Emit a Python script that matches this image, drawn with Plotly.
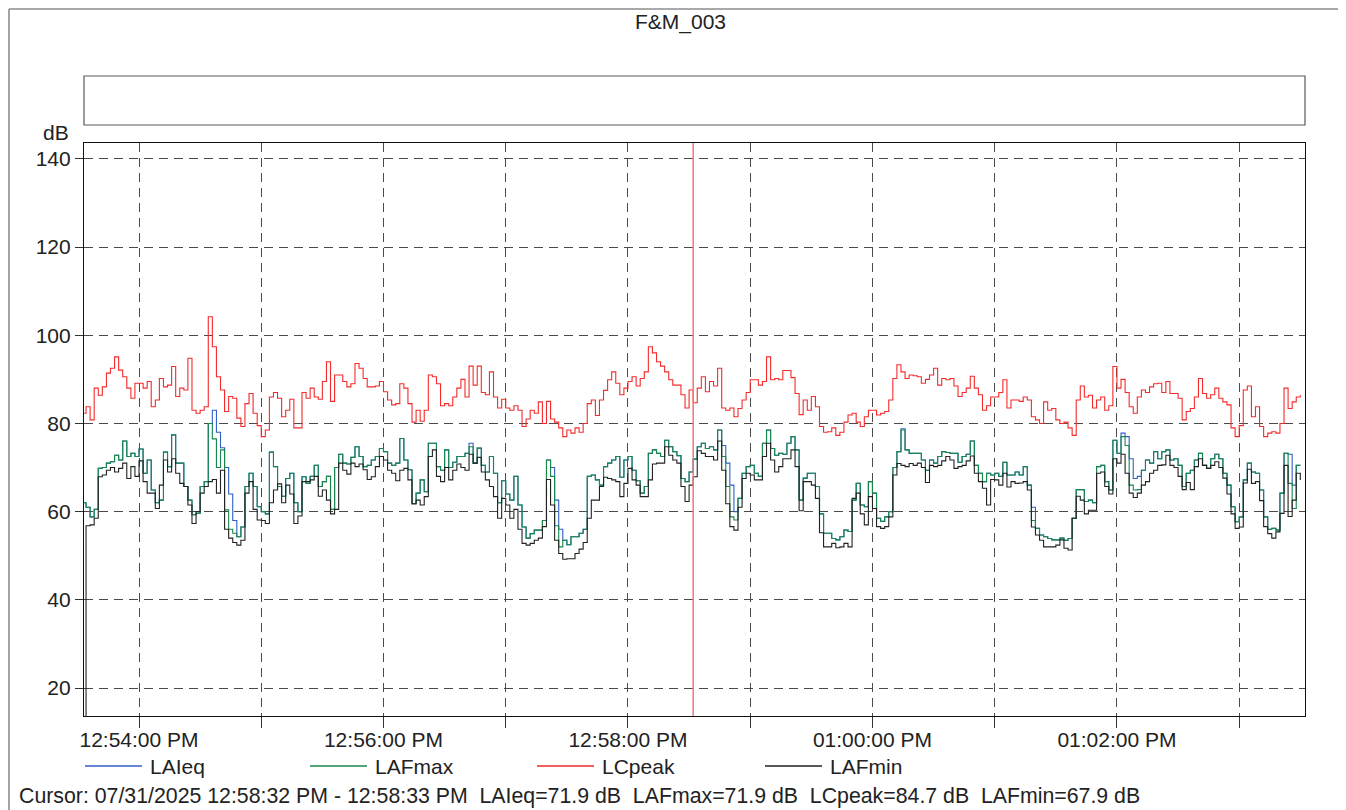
import plotly.graph_objects as go
import pandas as pd

# ---------------- data ----------------
START = "2025-07-31 12:53:32"
STEP_SECONDS = 2

LCpeak = [
    82.3, 83.8, 80.8, 88.0, 86.4, 88.3, 91.4, 92.5, 95.1, 92.1, 90.6, 88.0, 85.7, 89.1, 89.1, 88.0, 89.5, 83.8, 85.3, 90.2,
    88.3, 88.7, 92.9, 86.1, 88.0, 87.6, 94.8, 83.0, 82.3, 83.0, 83.8, 104.2, 97.4, 90.6, 87.6, 82.7, 86.1, 85.7, 81.2, 79.3,
    84.5, 86.8, 82.3,
    79.5, 77.0, 78.5, 86.0, 87.0, 85.7, 81.5, 83.0, 85.5, 79.0, 79.0, 87.0, 85.7, 88.0, 86.0, 85.5, 89.5, 94.0, 85.0, 91.0,
    91.0, 89.5, 88.3, 89.0, 93.6, 92.5, 90.2, 88.3, 88.3, 88.5, 89.5, 87.2, 85.3, 84.2, 84.5, 89.0, 88.0, 84.5, 80.3, 83.0,
    80.5, 83.0, 91.0, 90.6,
    89.0, 84.0, 84.5, 84.0, 86.0, 88.0, 90.0, 86.0, 93.0, 88.7, 93.0, 87.0, 86.5, 91.7, 86.0, 83.5, 85.5, 83.5, 83.0, 84.0,
    83.0, 79.3, 81.0, 83.0, 82.3, 84.9, 80.0, 85.0, 81.0, 80.3, 79.0, 77.0, 78.5, 77.8, 79.0, 78.0, 80.0, 84.5, 85.3, 81.8,
    85.3, 87.5, 89.9,
    91.7, 89.1, 86.5, 88.0, 89.5, 90.6, 88.5, 90.2, 91.7, 97.4, 96.0, 94.0, 93.0, 91.7, 89.9, 88.7, 88.7, 86.5, 83.5, 87.6,
    84.7, 88.0, 90.6, 87.2, 89.5, 88.5, 92.5, 83.5, 83.0, 83.5, 81.5, 83.4, 85.3, 87.0, 89.9, 89.9, 88.7, 89.5, 95.1, 89.9,
    90.2, 89.9, 92.0,
    92.0, 90.4, 86.8, 82.0, 85.3, 83.0, 86.1, 83.8, 79.3, 78.0, 78.1, 79.0, 77.3, 78.0, 80.3, 81.9, 82.3, 80.3, 79.3, 81.5,
    83.0, 83.0, 81.9, 82.3, 82.7, 85.3, 90.2, 93.3, 91.7, 90.2, 91.0, 90.8, 90.6, 89.1, 90.0, 91.0, 92.5, 88.7, 90.2, 89.9,
    90.2, 88.5, 86.1,
    87.0, 88.0, 90.7, 88.0, 86.5, 83.0, 84.0, 86.0, 86.0, 87.0, 89.9, 83.5, 85.3, 85.3, 85.0, 86.0, 85.3, 81.5, 80.8, 80.0,
    84.9, 83.0, 83.4, 80.8, 80.0, 80.3, 79.0, 77.3, 85.3, 88.5, 86.0, 86.4, 83.5, 85.3, 86.0, 83.0, 84.0, 92.9, 88.0, 90.0,
    87.0, 83.8, 82.3,
    86.0, 87.6, 87.0, 88.3, 89.0, 89.1, 87.0, 89.5, 86.8, 86.8, 85.7, 80.8, 82.7, 83.4, 86.0, 90.2, 86.8, 85.7, 86.5, 88.0,
    85.7, 84.9, 84.2, 79.0, 77.0, 79.5, 87.6, 88.5, 81.5, 83.8, 79.3, 77.0, 77.8, 78.1, 77.8, 80.0, 88.0, 83.4, 84.9, 86.0,
    86.4,
]

LAFmax = [
    62.0, 61.0, 58.8, 60.5, 69.8, 70.0, 71.0, 71.3, 72.8, 71.7, 76.0, 72.5, 73.2, 72.5, 74.2, 68.7, 71.7, 64.9, 62.0, 62.6,
    73.5, 70.2, 77.4, 71.0, 71.0, 65.7, 62.6, 59.3, 59.6, 65.7, 66.8, 80.0, 76.5, 70.0, 74.0, 60.4, 56.0, 55.1, 54.3, 56.5,
    65.7, 68.7, 65.7,
    61.1, 60.0, 59.5, 73.5, 70.2, 65.7, 63.5, 67.5, 68.7, 62.0, 60.0, 67.9, 66.4, 68.0, 70.5, 65.7, 66.8, 68.0, 60.5, 70.0,
    73.0, 71.0, 70.8, 72.3, 74.7, 72.5, 70.2, 70.5, 71.7, 72.5, 74.3, 73.6, 71.0, 70.5, 71.0, 76.6, 71.7, 69.5, 61.8, 64.2,
    67.2, 64.5, 75.5, 75.5,
    70.2, 69.4, 74.0, 70.0, 71.2, 72.5, 72.5, 73.2, 74.7, 71.0, 74.4, 70.5, 69.0, 72.5, 68.7, 62.0, 67.0, 64.0, 62.6, 68.0,
    61.5, 56.5, 54.0, 55.0, 55.8, 55.8, 58.0, 71.7, 68.0, 56.8, 52.0, 53.5, 52.5, 54.3, 54.3, 55.1, 56.0, 68.0, 68.3, 67.2,
    66.0, 70.2, 71.0,
    71.7, 72.5, 67.8, 71.7, 72.5, 69.4, 67.0, 64.2, 65.7, 73.2, 74.0, 73.2, 72.5, 76.2, 74.7, 73.6, 72.7, 67.5, 66.8, 69.0,
    71.9, 74.7, 75.5, 74.3, 74.7, 74.0, 78.5, 72.5, 65.7, 58.8, 58.1, 63.0, 68.7, 70.2, 70.5, 68.7, 68.0, 75.5, 78.5, 74.3,
    72.8, 73.2, 73.0,
    75.5, 77.0, 74.0, 62.6, 67.6, 68.7, 68.7, 65.7, 59.5, 55.1, 55.1, 53.9, 53.6, 54.3, 55.8, 55.5, 62.6, 66.4, 61.5, 61.1,
    66.8, 64.2, 58.5, 57.8, 58.8, 60.0, 70.0, 73.6, 78.5, 74.0, 73.2, 73.2, 73.2, 71.7, 69.4, 71.7, 71.0, 72.5, 73.6, 73.4,
    73.2, 73.2, 71.2,
    72.5, 73.0, 76.0, 70.5, 68.7, 66.8, 68.7, 68.3, 68.7, 68.0, 71.2, 68.3, 68.3, 69.0, 68.3, 70.2, 66.0, 58.0, 56.2, 54.7,
    54.3, 53.9, 53.6, 53.6, 54.0, 53.5, 53.9, 58.5, 65.0, 65.0, 62.3, 62.6, 62.0, 70.2, 70.5, 66.8, 64.9, 76.2, 73.2, 77.0,
    75.0, 66.0, 64.9,
    65.0, 69.4, 71.7, 71.0, 73.6, 72.0, 73.6, 74.0, 71.7, 72.0, 70.5, 65.7, 68.7, 69.4, 71.7, 73.2, 70.5, 69.8, 72.0, 73.0,
    72.0, 68.7, 66.0, 61.1, 57.7, 58.8, 67.2, 71.0, 69.0, 68.7, 64.9, 58.8, 56.0, 56.2, 55.8, 64.2, 73.2, 66.4, 60.7, 70.5,
    70.5,
]

LAIeq = [
    62.0, 61.0, 58.8, 60.5, 69.8, 70.0, 71.0, 71.3, 72.8, 71.7, 76.0, 72.5, 73.2, 72.5, 74.2, 68.7, 71.7, 64.9, 62.0, 62.6,
    73.5, 70.2, 77.4, 71.0, 71.0, 65.7, 62.6, 59.3, 59.6, 65.7, 66.8, 80.0, 83.0, 78.0, 74.5, 70.0, 64.0, 58.0, 54.3, 56.5,
    65.7, 68.7, 65.7,
    61.1, 60.0, 59.5, 73.5, 70.2, 65.7, 63.5, 67.5, 68.7, 62.0, 60.0, 67.9, 66.4, 68.0, 70.5, 65.7, 66.8, 68.0, 60.5, 70.0,
    73.0, 71.0, 70.8, 72.3, 74.7, 72.5, 70.2, 70.5, 71.7, 72.5, 74.3, 73.6, 71.0, 70.5, 71.0, 76.6, 71.7, 69.5, 61.8, 64.2,
    67.2, 64.5, 75.5, 75.5,
    70.2, 69.4, 74.0, 70.0, 71.2, 72.5, 72.5, 73.2, 75.5, 71.0, 74.4, 70.5, 69.0, 72.5, 68.7, 62.0, 67.0, 64.0, 62.6, 68.0,
    61.5, 56.5, 54.0, 55.0, 55.8, 55.8, 58.0, 71.7, 70.0, 62.6, 56.0, 53.5, 52.5, 54.3, 54.3, 55.1, 56.0, 68.0, 68.3, 67.2,
    66.0, 70.2, 71.0,
    71.7, 72.5, 67.8, 71.7, 72.5, 69.4, 67.0, 64.2, 65.7, 73.2, 74.0, 73.2, 72.5, 76.2, 74.7, 73.6, 72.7, 67.5, 66.8, 69.0,
    71.9, 74.7, 75.5, 74.3, 74.7, 74.0, 78.5, 75.0, 71.0, 66.0, 60.0, 63.0, 68.7, 70.2, 70.5, 68.7, 68.0, 75.5, 78.5, 74.3,
    72.8, 73.2, 73.0,
    75.5, 77.0, 74.0, 62.6, 67.6, 68.7, 68.7, 65.7, 59.5, 55.1, 55.1, 53.9, 53.6, 54.3, 55.8, 55.5, 62.6, 66.4, 61.5, 61.1,
    66.8, 64.2, 58.5, 57.8, 58.8, 60.0, 70.0, 73.6, 78.8, 74.0, 73.2, 73.2, 73.2, 71.7, 69.4, 71.7, 71.0, 72.5, 73.6, 73.4,
    73.2, 73.2, 71.2,
    72.5, 73.0, 76.0, 70.5, 68.7, 66.8, 68.7, 68.3, 68.7, 68.0, 71.2, 68.3, 68.3, 69.0, 68.3, 70.2, 66.0, 61.0, 56.2, 54.7,
    54.3, 53.9, 53.6, 53.6, 54.0, 53.5, 53.9, 58.5, 65.0, 65.0, 62.3, 62.6, 62.0, 70.2, 70.5, 66.8, 64.9, 76.2, 73.2, 77.8,
    77.0, 72.0, 67.5,
    68.0, 69.4, 71.7, 71.0, 73.6, 72.0, 73.6, 74.0, 71.7, 72.0, 70.5, 65.7, 68.7, 69.4, 71.7, 73.2, 70.5, 69.8, 72.0, 73.0,
    72.0, 68.7, 66.0, 61.1, 57.7, 58.8, 67.2, 71.0, 69.0, 68.7, 64.9, 58.8, 56.0, 56.2, 55.8, 64.2, 73.2, 73.0, 66.0, 70.5,
    70.5,
]

LAFmin = [
    0.0, 56.8, 57.0, 58.5, 67.9, 68.3, 69.4, 70.0, 69.0, 69.8, 71.0, 67.5, 70.2, 68.0, 71.5, 66.8, 64.2, 64.2, 60.7, 66.0,
    71.7, 69.0, 72.0, 68.7, 66.4, 65.7, 61.5, 57.3, 60.0, 64.2, 65.7, 66.8, 67.3, 64.2, 69.4, 56.0, 54.0, 53.0, 52.4, 53.5,
    64.2, 66.8, 60.5,
    58.1, 58.0, 57.3, 62.0, 64.9, 66.3, 62.0, 66.0, 64.0, 57.3, 59.0, 66.8, 66.8, 67.2, 68.0, 63.5, 64.9, 62.6, 59.5, 60.5,
    71.0, 69.4, 68.5, 71.0, 70.2, 70.8, 69.5, 67.3, 67.9, 70.2, 72.5, 71.7, 69.4, 68.7, 67.0, 69.4, 69.8, 67.2, 61.8, 62.6,
    61.5, 63.4, 72.5, 74.0,
    68.0, 66.8, 70.0, 67.2, 69.4, 70.8, 70.0, 69.4, 73.0, 71.0, 72.3, 69.0, 67.2, 65.7, 63.4, 58.5, 63.0, 61.5, 58.5, 60.5,
    56.0, 52.8, 52.4, 52.8, 53.5, 54.0, 56.6, 67.3, 61.5, 53.5, 50.5, 49.2, 49.3, 49.3, 50.5, 51.5, 53.0, 58.5, 62.6, 62.6,
    65.7, 67.8, 67.5,
    67.2, 66.8, 63.4, 66.4, 69.8, 67.2, 66.0, 63.4, 63.4, 67.2, 70.8, 71.0, 71.0, 74.7, 72.8, 71.7, 71.0, 65.7, 62.3, 66.0,
    67.9, 73.8, 73.2, 72.5, 72.5, 71.7, 76.0, 69.4, 61.8, 56.6, 55.8, 61.0, 67.5, 68.7, 68.3, 67.2, 67.2, 72.5, 75.5, 71.7,
    69.0, 70.2, 72.0,
    72.0, 74.0, 70.2, 60.2, 66.8, 66.8, 66.0, 63.0, 55.2, 52.0, 52.0, 52.8, 51.8, 52.0, 52.8, 52.0, 63.0, 64.2, 59.5, 57.0,
    63.4, 60.7, 56.6, 56.2, 56.6, 58.8, 68.3, 70.9, 70.5, 70.2, 70.9, 70.5, 71.0, 70.0, 66.6, 70.5, 70.2, 70.5, 71.5, 72.5,
    71.7, 69.8, 70.2,
    70.5, 71.5, 72.6, 68.7, 66.8, 65.3, 61.5, 67.3, 67.2, 66.0, 68.7, 65.6, 66.8, 66.4, 66.5, 66.8, 64.9, 56.5, 54.7, 53.5,
    52.0, 52.0, 52.0, 52.4, 53.6, 51.7, 51.3, 58.5, 63.5, 62.6, 59.5, 60.3, 60.3, 68.7, 69.0, 65.7, 64.0, 72.0, 71.0, 73.0,
    68.7, 64.2, 63.2,
    64.2, 66.0, 66.8, 68.7, 69.4, 70.5, 70.6, 72.8, 70.5, 70.0, 68.0, 65.0, 66.6, 65.0, 70.2, 72.0, 70.5, 69.8, 70.5, 71.3,
    70.0, 67.6, 64.0, 59.5, 56.2, 56.5, 66.5, 69.6, 66.4, 66.8, 62.5, 56.6, 55.0, 54.0, 55.4, 59.6, 70.5, 58.9, 62.6, 68.7,
    67.2,
]

SERIES_NAMES = ["LAIeq", "LAFmax", "LCpeak", "LAFmin"]
X_RANGE = ["2025-07-31 12:53:33", "2025-07-31 13:03:32.3"]
X_TICK0 = "2025-07-31 12:54:00"
Y_RANGE = [13.65, 143.6]
Y_TICKS = [20, 40, 60, 80, 100, 120, 140]
CURSOR_TIME = "2025-07-31 12:58:32"
TITLE = "F&M_003"
Y_UNIT = "dB"
CURSOR_TEXT = ("Cursor: 07/31/2025 12:58:32 PM - 12:58:33 PM \u00a0LAIeq=71.9 dB \u00a0LAFmax=71.9 dB "
               "\u00a0LCpeak=84.7 dB \u00a0LAFmin=67.9 dB")

# ---------------- styling ----------------
OFFSET = 8                                   # page body margin of the html page
W, H = 1346 - OFFSET, 810 - OFFSET
PL, PR, PT, PB = 84, 1305, 143, 716          # plot area in screen pixels
FONT = "Liberation Sans, Arial, sans-serif"
FS = 21
COLORS = {"LAIeq": "#2f5fc8", "LAFmax": "#17874a", "LCpeak": "#f52a2a", "LAFmin": "#222222"}
GRID = "#4a4a4a"


def px(x):
    return (x - PL) / (PR - PL)


def py(y):
    return (PB - y) / (PB - PT)


times = pd.date_range(START, periods=len(LCpeak), freq=f"{STEP_SECONDS}s")
values = {"LAIeq": LAIeq, "LAFmax": LAFmax, "LCpeak": LCpeak, "LAFmin": LAFmin}

fig = go.Figure()
for name in SERIES_NAMES:
    fig.add_trace(go.Scatter(
        x=times, y=values[name], name=name, mode="lines",
        line=dict(shape="hv", width=1.1, color=COLORS[name]),
        showlegend=False, hoverinfo="skip",
    ))

shapes = []
annotations = []

# outer frame (top + left visible)
shapes.append(dict(type="line", xref="paper", yref="paper", x0=px(9), x1=px(1350), y0=py(9), y1=py(9),
                   line=dict(color="#8c8c8c", width=1.6), layer="above"))
shapes.append(dict(type="line", xref="paper", yref="paper", x0=px(9), x1=px(9), y0=py(9), y1=py(815),
                   line=dict(color="#8c8c8c", width=1.6), layer="above"))
# empty header box
shapes.append(dict(type="rect", xref="paper", yref="paper", x0=0, x1=1, y0=py(125), y1=py(76),
                   line=dict(color="#5a5a5a", width=1.2)))
# cursor line
shapes.append(dict(type="line", xref="x", yref="paper", x0=CURSOR_TIME, x1=CURSOR_TIME, y0=0, y1=1,
                   line=dict(color="#f07878", width=1.5), layer="above"))

# legend (drawn manually to match line length / spacing)
legend_x = [85, 310, 537, 765]
for name, lx in zip(SERIES_NAMES, legend_x):
    shapes.append(dict(type="line", xref="paper", yref="paper", x0=px(lx), x1=px(lx + 57), y0=py(766), y1=py(766),
                       line=dict(color=COLORS[name], width=1.5)))
    annotations.append(dict(xref="paper", yref="paper", x=px(lx + 63), y=py(766), text=name, showarrow=False,
                            xanchor="left", yanchor="middle", font=dict(family=FONT, size=FS, color="#222")))

annotations.append(dict(xref="paper", yref="paper", x=px(680), y=py(22), text=TITLE, showarrow=False,
                        xanchor="center", yanchor="middle", font=dict(family=FONT, size=FS, color="#222")))
annotations.append(dict(xref="paper", yref="paper", x=px(71), y=py(133), text=Y_UNIT, showarrow=False,
                        xanchor="right", yanchor="middle", font=dict(family=FONT, size=FS, color="#222")))
annotations.append(dict(xref="paper", yref="paper", x=px(17), y=py(796), text=CURSOR_TEXT, showarrow=False,
                        xanchor="left", yanchor="middle", font=dict(family=FONT, size=21.3, color="#222")))

fig.update_layout(
    width=W, height=H,
    margin=dict(l=PL - OFFSET, r=W + OFFSET - PR, t=PT - OFFSET, b=H + OFFSET - PB, pad=0),
    paper_bgcolor="white", plot_bgcolor="white",
    showlegend=False,
    font=dict(family=FONT, size=FS, color="#222"),
    shapes=shapes, annotations=annotations,
    xaxis=dict(
        type="date", range=X_RANGE, tickformat="%I:%M:%S %p", tick0=X_TICK0, dtick=120000,
        ticks="outside", ticklen=11, tickwidth=1, tickcolor="#333", ticklabelstandoff=-6,
        showgrid=True, gridcolor=GRID, gridwidth=1, griddash="9px,6px",
        minor=dict(tick0=X_TICK0, dtick=60000, ticks="outside", ticklen=11, tickwidth=1, tickcolor="#333",
                   showgrid=True, gridcolor=GRID, gridwidth=1, griddash="9px,6px"),
        showline=True, linecolor="#111", linewidth=1.2, mirror=True, zeroline=False,
        tickfont=dict(family=FONT, size=FS, color="#222"), fixedrange=True,
    ),
    yaxis=dict(
        range=Y_RANGE, tickvals=Y_TICKS, ticks="outside", ticklen=8, tickwidth=1, tickcolor="#333",
        showgrid=True, gridcolor=GRID, gridwidth=1, griddash="9px,6px",
        showline=True, linecolor="#111", linewidth=1.2, mirror=True, zeroline=False,
        tickfont=dict(family=FONT, size=FS, color="#222"), fixedrange=True,
    ),
)

fig.write_html("out.html")
